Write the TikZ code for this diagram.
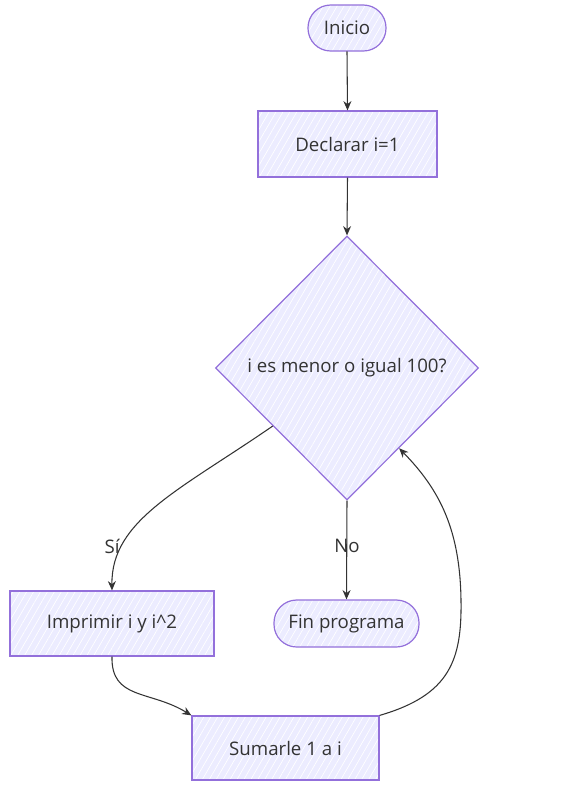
\documentclass[tikz,border=0pt]{standalone}
\usepackage{fontspec}
\setmainfont{Open Sans}
\usetikzlibrary{shapes.geometric,arrows.meta,patterns.meta}
\definecolor{nodefill}{HTML}{ECECFF}
\definecolor{nodeline}{HTML}{9370DB}
\definecolor{ink}{HTML}{333333}
\begin{document}
\begin{tikzpicture}[x=0.75pt,y=-0.75pt,
  base/.style={draw=nodeline, line width=0.9pt,
    preaction={fill=nodefill},
    pattern={Lines[angle=60,distance=4.5pt,line width=0.5pt]}, pattern color=white,
    font=\fontsize{14}{16}\selectfont, text=ink, inner sep=0pt},
  proc/.style={base, rectangle},
  term/.style={base, rectangle, rounded corners=17pt},
  decis/.style={base, diamond, aspect=1},
  arr/.style={draw=ink, line width=0.8pt, -{Stealth[length=7pt,width=6pt]}},
  lbl/.style={font=\fontsize{14}{16}\selectfont, text=ink, inner sep=1pt}]
\useasboundingbox (0,0) rectangle (584,794);
\node[term, minimum width=58.5pt, minimum height=34.5pt] (ini) at (347,28) {Inicio};
\node[proc, minimum width=134.25pt, minimum height=49.5pt] (decl) at (347.5,144) {Declarar i=1};
\node[decis, minimum width=197.25pt, minimum height=198pt] (dec) at (347,368) {i es menor o igual 100?};
\node[proc, minimum width=153pt, minimum height=48.75pt] (imp) at (112,623.5) {Imprimir i y i\textasciicircum 2};
\node[term, minimum width=108.75pt, minimum height=35.25pt] (fin) at (346.5,623.5) {Fin programa};
\node[proc, minimum width=140.25pt, minimum height=48pt] (sum) at (285.5,748) {Sumarle 1 a i};

\draw[arr] (ini.south) -- (decl.north);
\draw[arr] (decl.south) -- (dec.north);
\draw[arr] (dec.218) .. controls (180,490) and (111,520) .. (imp.north);
\node[lbl] (si) at (112,546) {Sí};
\draw[arr] (dec.south) -- (fin.north);
\node[lbl] (no) at (347,546) {No};
\draw[arr] (imp.south) .. controls (111,700) and (150,690) .. (sum.north west);
\draw[arr] (sum.north east) .. controls (450,695) and (462,660) .. (461,600)
  .. controls (460,530) and (440,490) .. (dec.303);
\end{tikzpicture}
\end{document}
